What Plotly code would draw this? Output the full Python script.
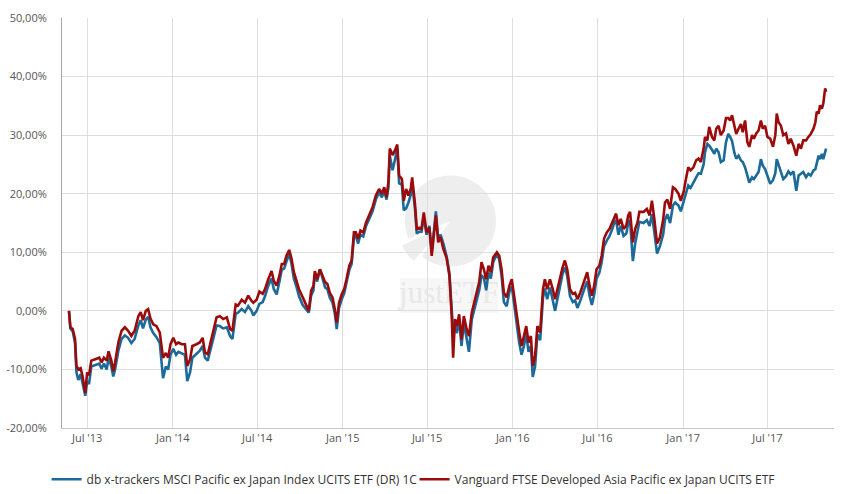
import numpy as np
import pandas as pd
import plotly.graph_objects as go

# ---------------- data ----------------
base_date = "2013-07-01"
day_offsets = [
    -39, -36, -31, -26, -23, -19, -14, -10, -4, 0,
    4, 9, 16, 26, 31, 36, 42, 46, 52, 56,
    60, 67, 74, 81, 88, 95, 102, 110, 115, 120,
    126, 131, 136, 142, 149, 156, 163, 169, 174, 179,
    185, 191, 196, 203, 210, 215, 221, 226, 235, 242,
    248, 253, 259, 264, 271, 278, 285, 292, 300, 307,
    312, 319, 324, 332, 339, 346, 353, 357, 364, 370,
    377, 382, 389, 396, 401, 407, 413, 418, 423, 428,
    434, 439, 444, 450, 455, 463, 470, 476, 481, 486,
    489, 494, 500, 506, 511, 516, 521, 527, 532, 536,
    541, 547, 552, 557, 563, 568, 573, 577, 582, 587,
    593, 599, 606, 613, 620, 627, 633, 638, 643, 647,
    650, 656, 661, 666, 670, 676, 680, 685, 690, 695,
    698, 704, 708, 713, 718, 723, 729, 735, 740, 745,
    749, 754, 759, 765, 772, 778, 783, 786, 790, 794,
    799, 804, 809, 815, 820, 826, 831, 837, 842, 847,
    852, 857, 862, 867, 872, 880, 885, 890, 895, 901,
    907, 912, 917, 923, 928, 933, 938, 943, 948, 953,
    957, 962, 967, 973, 979, 983, 988, 994, 1000, 1005,
    1010, 1016, 1021, 1026, 1031, 1037, 1043, 1048, 1053, 1059,
    1064, 1069, 1074, 1079, 1084, 1089, 1094, 1100, 1105, 1110,
    1116, 1122, 1127, 1132, 1136, 1141, 1146, 1152, 1158, 1162,
    1166, 1172, 1177, 1182, 1186, 1195, 1202, 1208, 1213, 1218,
    1224, 1230, 1237, 1241, 1246, 1252, 1258, 1263, 1270, 1275,
    1281, 1286, 1291, 1296, 1302, 1308, 1313, 1318, 1324, 1327,
    1332, 1336, 1342, 1347, 1351, 1356, 1361, 1367, 1372, 1377,
    1381, 1385, 1390, 1394, 1399, 1404, 1408, 1413, 1418, 1422,
    1428, 1432, 1437, 1442, 1447, 1451, 1456, 1461, 1467, 1473,
    1478, 1481, 1485, 1490, 1495, 1501, 1506, 1511, 1517, 1523,
    1528, 1533, 1538, 1544, 1549, 1554, 1560, 1564, 1567, 1571,
    1574, 1578, 1581, 1585, 1587,
]

vanguard = [
    0, -2.8, -3.1, -4.8, -9.4, -10, -9.8, -11.1, -14, -10.5,
    -11, -8.5, -8.3, -8, -8.8, -8, -8.5, -6.9, -8.5, -10.3,
    -8.8, -5.4, -3.4, -2.8, -3.4, -4.3, -3.4, -0.9, -0.2, -1.6,
    0, 0.3, -1.3, -2.3, -2.6, -3.7, -8, -7.2, -8, -5.7,
    -4.6, -5.7, -5.4, -5.7, -5.7, -9.4, -8.3, -6, -5.7, -5.4,
    -4.6, -7.1, -7.4, -5.7, -3.1, -1.1, -0.9, -1.4, -1.1, -3.1,
    -3.4, 1.1, 0.9, 1.9, 1.4, 2.6, 1.7, 1.4, 1.9, 3.3,
    2.9, 3.7, 5.4, 6.8, 5.1, 4.3, 6, 8, 8, 9.4,
    10.4, 8.9, 6.6, 5.1, 3.7, 2.3, 1.1, 0, 3.4, 4.3,
    6.8, 5.4, 7.1, 6, 4.9, 4.6, 3.1, 2.3, 0.3, -2,
    1.4, 2.9, 3.7, 5.4, 7.7, 8.6, 13.4, 13.4, 12.3, 13.7,
    13.4, 15.1, 16.3, 17.7, 19.7, 20.8, 20, 21.1, 19.4, 22,
    27.7, 26.6, 27.4, 28.4, 23.1, 22.5, 18.8, 20.8, 19.7, 20.8,
    22.8, 18.3, 14, 14.2, 14, 16.8, 13.4, 14.2, 9.4, 13.4,
    16.3, 11.7, 12.6, 10.6, 9, 6, -0.9, -8, -1.4, -2.6,
    -0.6, -4.9, -0.9, -3.1, -4.3, -0.3, 1.4, 3.7, 4.9, 8.3,
    7.1, 5.4, 7.7, 6.6, 9.1, 10, 9.4, 7.1, 3.1, 2.3,
    4.3, 5.4, 2.6, -1.4, -3.7, -6, -4.3, -2.6, -5.4, -4.3,
    -9.4, -7.7, -2.6, -3.7, 3.7, 5.4, 3.7, 5.4, 3.7, 2,
    3.7, 6, 7.4, 8.6, 7.1, 3.7, 2.9, 3.1, 2, 3.1,
    4.3, 5.4, 6.6, 4.3, 2.6, 4.3, 7.1, 7.7, 9.4, 12.3,
    13.4, 14, 14.9, 16, 16.6, 14.6, 15.7, 14, 14.6, 16.3,
    16.9, 11.7, 14, 15.1, 16.9, 16.9, 17.4, 16.3, 18.8, 15.8,
    11.5, 12.5, 15.5, 18.5, 19, 17.4, 21.1, 20.8, 20, 18.8,
    20.3, 22.5, 24.5, 24, 24.5, 25.7, 26, 25.4, 27.7, 29.7,
    29.1, 31.4, 29.7, 29.1, 31.1, 31.6, 30, 30.8, 32.9, 32.9,
    32.5, 33.4, 31.6, 30.2, 31.1, 31.9, 30.5, 32.5, 28.8, 28,
    30, 29.4, 30.3, 30.8, 32.5, 31.1, 31.6, 29.7, 29.4, 28,
    30, 33.7, 32.2, 31.6, 30, 30.3, 28.5, 29.4, 28.2, 26.5,
    28.5, 27.7, 29.1, 29.1, 29.7, 30.2, 31.1, 32.2, 34, 33.7,
    35.1, 34.5, 35.4, 38, 37.4,
]

dbx = [
    0, -3.0, -3.5, -5.5, -10.5, -11.8, -10.8, -12.2, -14.5, -12,
    -12.5, -9.5, -9.3, -9, -9.9, -9, -10, -8, -9.5, -11.2,
    -10, -6.8, -4.8, -4.2, -4.6, -5.5, -4.8, -2.5, -1.6, -3,
    -1.5, -1, -2.8, -3.8, -4.5, -5.5, -11.5, -9.5, -10, -7.5,
    -6.5, -7.5, -7, -7.3, -7.5, -12, -10.5, -8, -7.3, -6.8,
    -6, -8, -8.5, -6.8, -4.5, -2.5, -2.6, -3, -2.8, -4.3,
    -4.8, -0.5, -0.3, 0.3, -0.2, 0.8, 0, -0.8, 0, 1.2,
    1.5, 2.5, 4.3, 5.5, 3.7, 2.8, 5, 7, 7.2, 8.5,
    9.8, 8, 5.5, 4, 2.5, 1, 0.3, -0.3, 2.6, 3.5,
    6.3, 5, 7.1, 5.5, 4, 3.7, 2.3, 1.4, -0.5, -3.1,
    0.5, 2, 3, 4.8, 7, 8, 12.6, 12.8, 11.5, 13,
    12.7, 14.5, 15.8, 17, 19, 20.2, 19.4, 20.5, 19, 21,
    26.5, 24, 25.8, 27.7, 21.8, 21.5, 17.2, 17.5, 18.5, 19.8,
    22, 17.5, 13.2, 13.5, 13.5, 16, 13, 14.5, 10, 13.5,
    17, 12.3, 13, 11.5, 9.3, 6.5, 0.5, -3.5, -2.5, -3.8,
    -1.5, -6, -2, -4.5, -7, -1.5, 0, 2.3, 3.5, 6,
    5.7, 3.5, 6.5, 5.5, 8.3, 9.7, 8.8, 6, 1.5, 0.8,
    3.3, 4.2, 1.2, -2.8, -5.5, -7.5, -6, -4, -7, -6,
    -11.3, -9.5, -4, -5, 2.3, 3.8, 2, 4, 1.5, 0,
    2, 4.5, 6.3, 7.4, 6, 2.5, 1.5, 1.8, 0.5, 1.7,
    3, 4, 5, 2.6, 1, 2.8, 5.5, 6.5, 8.3, 11,
    12, 12.8, 13.8, 15, 15.5, 13, 14.5, 12.8, 13.2, 15,
    15.5, 8.5, 11.5, 13.5, 15.2, 15, 15.5, 14.5, 16.5, 13.5,
    9.8, 11, 13, 15.5, 16.5, 15, 18, 18.5, 18, 17,
    18.5, 20, 21.4, 21, 22, 22.8, 23.5, 23.4, 25, 27.1,
    28.5, 28.2, 27.5, 26.8, 27.7, 27.1, 25.4, 25.7, 28.8, 30.2,
    29.7, 29, 27, 26, 26.5, 25.7, 25.4, 24.5, 23.1, 21.9,
    22.8, 22.5, 23.1, 23.7, 25.9, 24.8, 24.2, 23, 21.7, 22.3,
    23.5, 25.9, 25, 23.8, 22.5, 23, 23.8, 23.3, 23.8, 20.5,
    23.1, 23.4, 23.7, 22.8, 23.4, 23.1, 24, 24.2, 25.4, 26.5,
    25.9, 26.8, 25.9, 27.1, 27.7,
]

series_names = [
    "db x-trackers MSCI Pacific ex Japan Index UCITS ETF (DR) 1C",
    "Vanguard FTSE Developed Asia Pacific ex Japan UCITS ETF",
]

x_tick_dates = ["2013-07-01", "2014-01-01", "2014-07-01", "2015-01-01", "2015-07-01",
                "2016-01-01", "2016-07-01", "2017-01-01", "2017-07-01"]
x_tick_labels = ["Jul '13", "Jan '14", "Jul '14", "Jan '15", "Jul '15",
                 "Jan '16", "Jul '16", "Jan '17", "Jul '17"]
y_tick_vals = [-20, -10, 0, 10, 20, 30, 40, 50]
y_tick_labels = ["-20,00%", "-10,00%", "0,00%", "10,00%", "20,00%", "30,00%", "40,00%", "50,00%"]

assert len(day_offsets) == len(vanguard) == len(dbx)

dates = pd.Timestamp(base_date) + pd.to_timedelta(day_offsets, unit="D")

# ---------------- style ----------------
X_RANGE = ["2013-05-08", "2017-11-21"]
Y_RANGE = [-20, 50]
BLUE = "#1c6a99"
RED = "#9c0b0b"
FONT = "Open Sans"

L, R, T, B = 62, 11, 18, 66
W, H = 845, 494
pw, ph = W - L - R, H - T - B


def px(xp):
    return (xp - L) / pw


def py(yp):
    return (H - B - yp) / ph


def frac_to_x(f):
    t0, t1 = pd.Timestamp(X_RANGE[0]), pd.Timestamp(X_RANGE[1])
    return t0 + (t1 - t0) * f


def frac_to_y(f):
    return Y_RANGE[0] + (Y_RANGE[1] - Y_RANGE[0]) * f


cx, cy, rad = 450.5, 221.0, 45.5
a0, a1 = np.deg2rad(203), np.deg2rad(231)


def pie_path(cx, cy, r, start, end):
    ang = np.linspace(start, end, 60)
    pts = [(cx + r * np.cos(a), cy - r * np.sin(a)) for a in ang]
    s = f"M{px(cx):.5f},{py(cy):.5f} "
    s += " ".join(f"L{px(x):.5f},{py(y):.5f}" for x, y in pts)
    return s + " Z"


main_path = pie_path(cx, cy, rad, a1, a0 + 2 * np.pi)
dm = (a0 + a1) / 2
off = 9
ex_cx, ex_cy = cx + off * np.cos(dm), cy - off * np.sin(dm)
slice_path = pie_path(ex_cx, ex_cy, rad, a0 + 0.03, a1 - 0.03)

shapes = [
    dict(type="path", xref="paper", yref="paper", path=main_path,
         fillcolor="#eeeeee", line=dict(width=0), layer="below"),
    dict(type="path", xref="paper", yref="paper", path=slice_path,
         fillcolor="#eeeeee", line=dict(width=0), layer="below"),
    dict(type="rect", xref="paper", yref="paper", x0=px(400), x1=px(498),
         y0=py(313), y1=py(278), fillcolor="#f7f7f7", line=dict(width=0), layer="below"),
]

fig = go.Figure()

fig.add_trace(go.Scatter(
    x=[frac_to_x(px(449))], y=[frac_to_y(py(295))], mode="text", text=["justETF"],
    textfont=dict(family="Liberation Serif", size=31, color="#e8e8e8"),
    hoverinfo="skip", showlegend=False,
))

fig.add_trace(go.Scatter(
    x=dates, y=dbx, mode="lines", name=series_names[0],
    line=dict(color=BLUE, width=2.6),
))
fig.add_trace(go.Scatter(
    x=dates, y=vanguard, mode="lines", name=series_names[1],
    line=dict(color=RED, width=2.6),
))

fig.update_layout(
    width=W, height=H,
    margin=dict(l=L, r=R, t=T, b=B, autoexpand=False),
    paper_bgcolor="white", plot_bgcolor="white",
    font=dict(family=FONT, size=11, color="#555555"),
    shapes=shapes,
    showlegend=True,
    legend=dict(orientation="h", x=-0.020, xanchor="left", y=-0.125, yanchor="middle",
                font=dict(family=FONT, size=12, color="#333333"),
                itemwidth=30, tracegroupgap=0, bgcolor="rgba(0,0,0,0)",
                entrywidth=323, entrywidthmode="pixels"),
    hovermode="x unified",
)
fig.update_xaxes(
    type="date", range=X_RANGE, automargin=False,
    tickvals=x_tick_dates, ticktext=x_tick_labels,
    showgrid=True, gridcolor="#dedede", gridwidth=1,
    showline=True, linecolor="#c8c8c8", linewidth=1,
    ticks="", tickfont=dict(family=FONT, size=11, color="#555555"),
    zeroline=False,
)
fig.update_yaxes(
    range=Y_RANGE, tickvals=y_tick_vals, ticktext=y_tick_labels, automargin=False,
    showgrid=True, gridcolor="#dedede", gridwidth=1,
    showline=True, linecolor="#a8a8a8", linewidth=1,
    ticks="", ticklabelstandoff=12,
    tickfont=dict(family=FONT, size=11, color="#555555"),
    zeroline=False,
)

fig.write_html(
    "out.html",
    config={"displayModeBar": False},
    post_script="document.body.style.margin='0';document.body.style.padding='0';",
)
